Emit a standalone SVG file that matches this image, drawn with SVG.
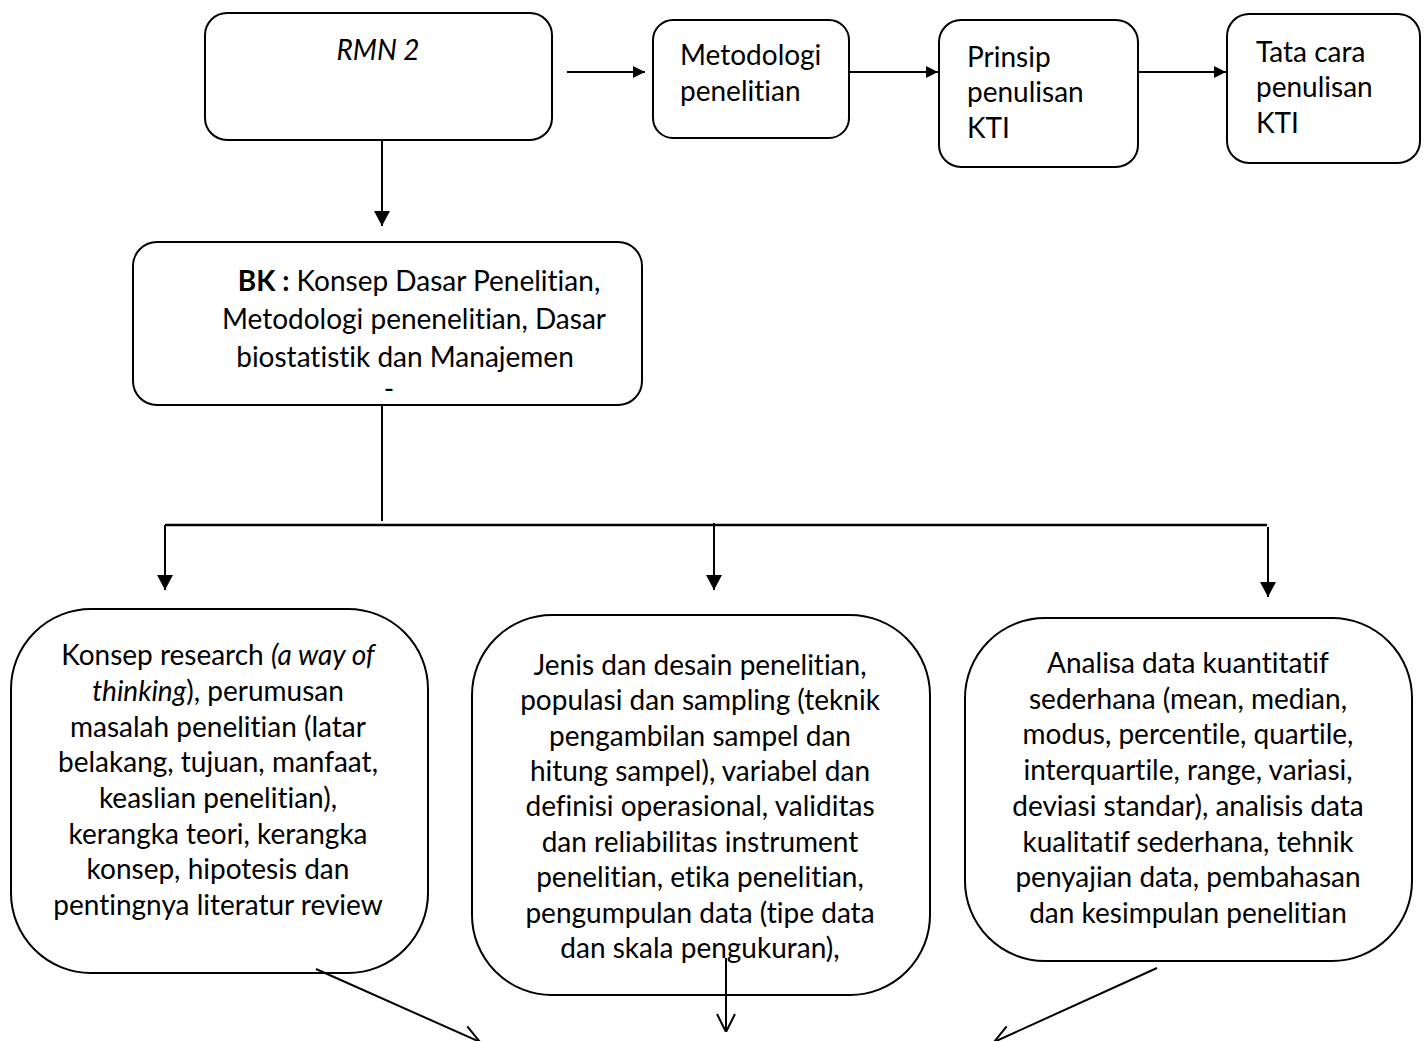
<svg xmlns="http://www.w3.org/2000/svg" width="1427" height="1041" viewBox="0 0 1427 1041">
<style>
.box{fill:#fff;stroke:#000;stroke-width:2}
.t{font-family:Lato,"Liberation Sans",sans-serif;font-size:28px;fill:#000;font-variant-ligatures:none;font-feature-settings:"liga" 0,"clig" 0}
.c{text-anchor:middle}
.ln{stroke:#000;stroke-width:2;fill:none}
</style>
<defs>
<marker id="fa2" viewBox="0 0 10 10" refX="10" refY="5" markerWidth="16" markerHeight="12" markerUnits="userSpaceOnUse" orient="auto"><path d="M0,0 L10,5 L0,10 z" fill="#000"/></marker>
<marker id="fa3" viewBox="0 0 10 10" refX="10" refY="5" markerWidth="15" markerHeight="16" markerUnits="userSpaceOnUse" orient="auto" preserveAspectRatio="none"><path d="M0,0 L10,5 L0,10 z" fill="#000"/></marker>
<marker id="va" viewBox="0 0 20 20" refX="20" refY="10" markerWidth="20" markerHeight="20" markerUnits="userSpaceOnUse" orient="auto"><path d="M2,1 L20,10 L2,19" fill="none" stroke="#000" stroke-width="2"/></marker>
</defs>
<g id="rmn2">
<rect class="box" x="205" y="13" width="347" height="127" rx="22"/>
<text class="t c" x="378" y="60" font-style="italic" font-size="29">RMN 2</text>
</g>
<g id="metodologi">
<rect class="box" x="653" y="20" width="196" height="118" rx="20"/>
<text class="t" x="680" y="65">Metodologi</text>
<text class="t" x="680" y="101">penelitian</text>
</g>
<g id="prinsip">
<rect class="box" x="939" y="20" width="199" height="147" rx="22"/>
<text class="t" x="967" y="67">Prinsip</text>
<text class="t" x="967" y="102">penulisan</text>
<text class="t" x="967" y="138">KTI</text>
</g>
<g id="tatacara">
<rect class="box" x="1227" y="14" width="193" height="149" rx="22"/>
<text class="t" x="1256" y="62">Tata cara</text>
<text class="t" x="1256" y="97">penulisan</text>
<text class="t" x="1256" y="133">KTI</text>
</g>
<g id="bk">
<rect class="box" x="133" y="242" width="509" height="163" rx="24"/>
<text class="t c" x="419" y="291"><tspan font-weight="bold">BK :</tspan> Konsep Dasar Penelitian,</text>
<text class="t c" x="414" y="329">Metodologi penenelitian, Dasar</text>
<text class="t c" x="405" y="367">biostatistik dan Manajemen</text>
<text class="t c" x="389" y="399" font-size="6">-</text>
</g>
<g id="konsep">
<rect class="box" x="11" y="609" width="417" height="364" rx="80"/>
<text class="t c" x="218" y="665">Konsep research <tspan font-style="italic">(a way of</tspan></text>
<text class="t c" x="218" y="701"><tspan font-style="italic">thinking</tspan>), perumusan</text>
<text class="t c" x="218" y="737">masalah penelitian (latar</text>
<text class="t c" x="218" y="772">belakang, tujuan, manfaat,</text>
<text class="t c" x="218" y="808">keaslian penelitian),</text>
<text class="t c" x="218" y="844">kerangka teori, kerangka</text>
<text class="t c" x="218" y="879">konsep, hipotesis dan</text>
<text class="t c" x="218" y="915">pentingnya literatur review</text>
</g>
<g id="jenis">
<rect class="box" x="472" y="615" width="458" height="380" rx="80"/>
<text class="t c" x="700" y="675">Jenis dan desain penelitian,</text>
<text class="t c" x="700" y="710">populasi dan sampling (teknik</text>
<text class="t c" x="700" y="746">pengambilan sampel dan</text>
<text class="t c" x="700" y="781">hitung sampel), variabel dan</text>
<text class="t c" x="700" y="816">definisi operasional, validitas</text>
<text class="t c" x="700" y="852">dan reliabilitas instrument</text>
<text class="t c" x="700" y="887">penelitian, etika penelitian,</text>
<text class="t c" x="700" y="923">pengumpulan data (tipe data</text>
<text class="t c" x="700" y="958">dan skala pengukuran),</text>
</g>
<g id="analisa">
<rect class="box" x="965" y="618" width="447" height="343" rx="80"/>
<text class="t c" x="1188" y="673">Analisa data kuantitatif</text>
<text class="t c" x="1188" y="709">sederhana (mean, median,</text>
<text class="t c" x="1188" y="744">modus, percentile, quartile,</text>
<text class="t c" x="1188" y="780">interquartile, range, variasi,</text>
<text class="t c" x="1188" y="816">deviasi standar), analisis data</text>
<text class="t c" x="1188" y="852">kualitatif sederhana, tehnik</text>
<text class="t c" x="1188" y="887">penyajian data, pembahasan</text>
<text class="t c" x="1188" y="923">dan kesimpulan penelitian</text>
</g>
<g id="connectors">
<line class="ln" x1="567" y1="72" x2="645" y2="72" marker-end="url(#fa2)"/>
<line class="ln" x1="849" y1="72" x2="938" y2="72" marker-end="url(#fa2)"/>
<line class="ln" x1="1138" y1="72" x2="1226" y2="72" marker-end="url(#fa2)"/>
<line class="ln" x1="382" y1="140" x2="382" y2="226" marker-end="url(#fa3)"/>
<line class="ln" x1="382" y1="405" x2="382" y2="521"/>
<line x1="165" y1="525" x2="1267" y2="525" stroke="#000" stroke-width="2.5"/>
<line class="ln" x1="165" y1="525" x2="165" y2="590" marker-end="url(#fa3)"/>
<line class="ln" x1="714" y1="523" x2="714" y2="590" marker-end="url(#fa3)"/>
<line class="ln" x1="1268" y1="527" x2="1268" y2="597" marker-end="url(#fa3)"/>
<line class="ln" x1="316" y1="969" x2="480" y2="1042" marker-end="url(#va)"/>
<line class="ln" x1="726" y1="958" x2="726" y2="1032" marker-end="url(#va)"/>
<line class="ln" x1="1157" y1="968" x2="994" y2="1042" marker-end="url(#va)"/>
</g>
</svg>
